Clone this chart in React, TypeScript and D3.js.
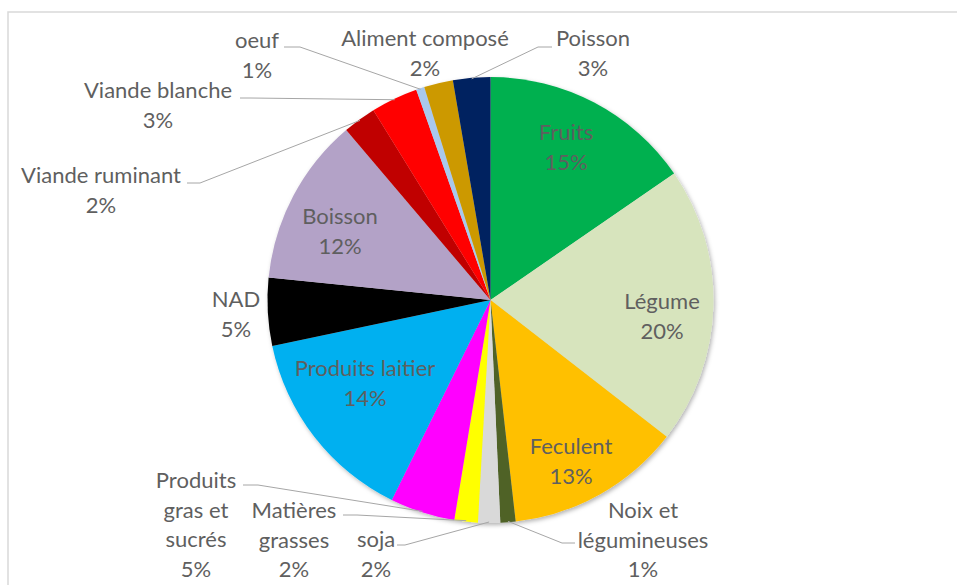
import React from "react";
import * as d3 from "d3";

// ---- data ----
const categories = [
  "Fruits",
  "Légume",
  "Feculent",
  "Noix et légumineuses",
  "soja",
  "Matières grasses",
  "Produits gras et sucrés",
  "Produits laitier",
  "NAD",
  "Boisson",
  "Viande ruminant",
  "Viande blanche",
  "oeuf",
  "Aliment composé",
  "Poisson",
];
const shares = [15.4, 20.1, 12.7, 1.1, 1.6, 1.7, 4.7, 14.4, 4.9, 12.2, 2.4, 3.4, 0.6, 2.1, 2.7];
const labelLines = [
  ["Fruits"],
  ["Légume"],
  ["Feculent"],
  ["Noix et", "légumineuses"],
  ["soja"],
  ["Matières", "grasses"],
  ["Produits", "gras et", "sucrés"],
  ["Produits laitier"],
  ["NAD"],
  ["Boisson"],
  ["Viande ruminant"],
  ["Viande blanche"],
  ["oeuf"],
  ["Aliment composé"],
  ["Poisson"],
];

// ---- styles ----
const colors = [
  "#00B050",
  "#D7E4BD",
  "#FFC000",
  "#4F6228",
  "#D9D9D9",
  "#FFFF00",
  "#FF00FF",
  "#00B0F0",
  "#000000",
  "#B3A2C7",
  "#C00000",
  "#FF0000",
  "#A9C8EC",
  "#CC9900",
  "#002060",
];

// ---- layout (label block: center x, first line center y; leader stub start/elbow) ----
type Layout = { x: number; y: number; leader?: [number, number, number, number] };
const layout: Layout[] = [
  { x: 566, y: 133 },
  { x: 662, y: 302 },
  { x: 571, y: 447 },
  { x: 643, y: 511, leader: [575, 543, 562, 543] },
  { x: 376, y: 540, leader: [397, 545, 405, 545] },
  { x: 294, y: 511, leader: [343, 515, 357, 515] },
  { x: 196, y: 481, leader: [243, 485, 258, 485] },
  { x: 365, y: 369 },
  { x: 236, y: 300 },
  { x: 340, y: 217 },
  { x: 101, y: 176, leader: [187, 183, 200, 183] },
  { x: 158, y: 91, leader: [240, 98, 250, 98] },
  { x: 257, y: 41, leader: [284, 47, 300, 47] },
  { x: 425, y: 39 },
  { x: 593, y: 39, leader: [552, 47, 538, 47] },
];

const W = 957;
const H = 585;
const CX = 490.5;
const CY = 300;
const R = 223;
const LINE_H = 29.5;
const TEXT_SHIFT = -2;

export default function App() {
  const total = d3.sum(shares);
  const pie = d3
    .pie<number>()
    .sort(null)
    .value((d) => d)
    .startAngle(0)
    .endAngle(2 * Math.PI);
  const arcs = pie(shares);
  const arc = d3.arc<d3.PieArcDatum<number>>().innerRadius(0).outerRadius(R);
  const edge = d3.arc<d3.PieArcDatum<number>>().innerRadius(R - 1).outerRadius(R - 1);

  return (
    <svg
      width={W}
      height={H}
      style={{ position: "absolute", left: 0, top: 0, background: "#fff" }}
      fontFamily="Lato, 'Open Sans', sans-serif"
    >
      <defs>
        <filter id="shadow" x="-10%" y="-10%" width="120%" height="120%">
          <feDropShadow dx="1.5" dy="2" stdDeviation="2" floodColor="#000" floodOpacity="0.3" />
        </filter>
      </defs>
      <rect x={8} y={12} width={1200} height={1200} fill="none" stroke="#D9D9D9" strokeWidth={1.5} />
      <g transform={`translate(${CX},${CY})`} filter="url(#shadow)">
        {arcs.map((a, i) => (
          <path key={categories[i]} d={arc(a) || ""} fill={colors[i]} />
        ))}
      </g>
      <g fill="none" stroke="#A6A6A6" strokeWidth={1}>
        {arcs.map((a, i) => {
          const l = layout[i].leader;
          if (!l) return null;
          const [ex, ey] = edge.centroid(a);
          return (
            <polyline
              key={i}
              points={`${l[0]},${l[1]} ${l[2]},${l[3]} ${CX + ex},${CY + ey}`}
            />
          );
        })}
      </g>
      <g fill="#5F5F5F" fontSize={22} textAnchor="middle" dominantBaseline="central">
        {arcs.map((a, i) => {
          const lines = [...labelLines[i], `${Math.round((shares[i] / total) * 100)}%`];
          return (
            <text key={i}>
              {lines.map((t, j) => (
                <tspan key={j} x={layout[i].x} y={layout[i].y + TEXT_SHIFT + j * LINE_H}>
                  {t}
                </tspan>
              ))}
            </text>
          );
        })}
      </g>
    </svg>
  );
}
